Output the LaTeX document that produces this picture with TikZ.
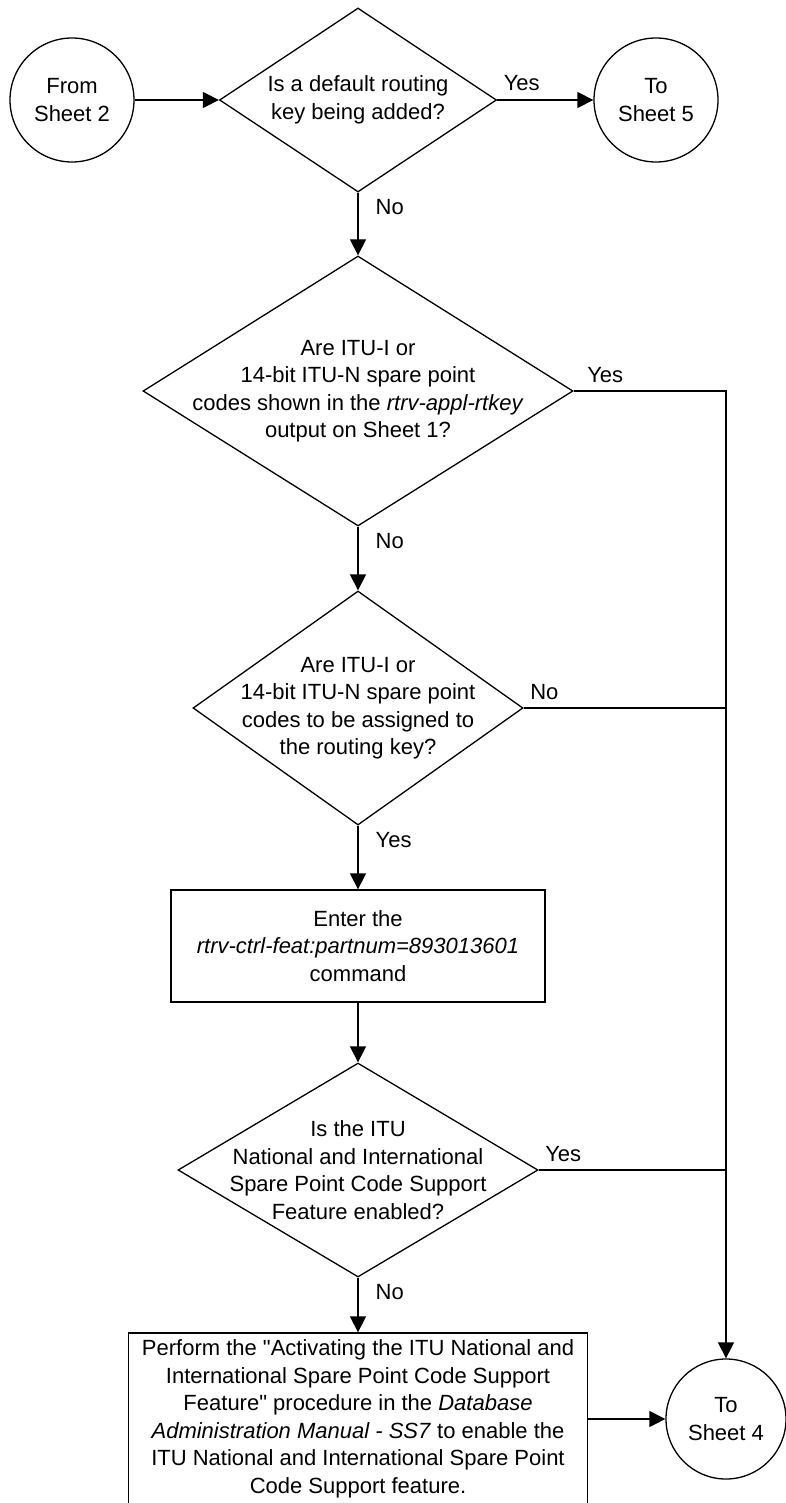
\documentclass[tikz,border=0pt]{standalone}
\usepackage{fontspec}
\setmainfont{Liberation Sans}
\usetikzlibrary{arrows.meta, shapes.geometric}
\newcommand{\fs}{\fontsize{22}{27.5}\selectfont}
\tikzset{
  every picture/.style={line width=1.3pt},
  sheet/.style={draw, circle, minimum size=#1, inner sep=0pt, align=center, font=\fs},
  sheet/.default=124pt,
  ask/.style={draw, diamond, inner sep=0pt},
  asktext/.style={align=center, inner sep=0pt, font=\fs},
  act/.style={draw, rectangle, align=center, inner sep=0pt, font=\fs},
  arrow/.style={-{Triangle[length=16pt, width=16pt]}},
  side/.style={anchor=base west, inner sep=0pt, font=\fs, xshift=6pt, yshift=9pt},
  down/.style={anchor=base west, inner sep=0pt, font=\fs, xshift=17pt, yshift=-22pt},
}

\begin{document}
\begin{tikzpicture}[x=1pt, y=-1pt]
  \useasboundingbox (0,0) rectangle (785,1503);
  % connectors to other sheets
  \node[sheet] (from2) at (72,100) {From\\Sheet 2};
  \node[sheet] (to5) at (656,100) {To\\Sheet 5};
  \node[sheet=120pt] (to4) at (726,1419) {To\\Sheet 4};
  % decisions
  \node[ask, minimum width=277pt, minimum height=184pt] (q1) at (358,100) {};
  \node[asktext] (q1t) at (q1) {Is a default routing\\key being added?};
  \node[ask, minimum width=430pt, minimum height=270pt] (q2) at (358,391) {};
  \node[asktext] (q2t) at (q2) {Are ITU-I or\\14-bit ITU-N spare point\\codes shown in the \textit{rtrv-appl-rtkey}\\output on Sheet 1?};
  \node[ask, minimum width=330pt, minimum height=234pt] (q3) at (358,708) {};
  \node[asktext] (q3t) at (q3) {Are ITU-I or\\14-bit ITU-N spare point\\codes to be assigned to\\the routing key?};
  \node[ask, minimum width=360pt, minimum height=214pt] (q4) at (358,1170) {};
  \node[asktext] (q4t) at (q4) {Is the ITU\\National and International\\Spare Point Code Support\\Feature enabled?};
  % actions
  \node[act, minimum width=374pt, minimum height=112pt] (cmd) at (358,946) {Enter the\\\textit{rtrv-ctrl-feat:partnum=893013601}\\command};
  \node[act, minimum width=459pt, minimum height=172pt] (perf) at (358,1419) {Perform the \textquotedbl Activating the ITU National and\\International Spare Point Code Support\\Feature\textquotedbl{} procedure in the \textit{Database}\\\textit{Administration Manual - SS7} to enable the\\ITU National and International Spare Point\\Code Support feature.};
  % flow
  \draw[arrow] (from2) -- (q1.west);
  \draw[arrow] (q1.east) -- (to5) node[side, pos=0] (y1) {Yes};
  \draw[arrow] (q1.south) -- (q2.north) node[down, pos=0] (n1) {No};
  \draw[arrow] (q2.east) -| (to4.north) node[side, pos=0, xshift=7pt] (y2) {Yes};
  \draw[arrow] (q2.south) -- (q3.north) node[down, pos=0] (n2) {No};
  \draw (q3.east) -- (q3.east -| to4.north) node[side, pos=0] (n3) {No};
  \draw[arrow] (q3.south) -- (cmd.north) node[down, pos=0] (y3) {Yes};
  \draw[arrow] (cmd.south) -- (q4.north);
  \draw (q4.east) -- (q4.east -| to4.north) node[side, pos=0] (y4) {Yes};
  \draw[arrow] (q4.south) -- (perf.north) node[down, pos=0] (n4) {No};
  \draw[arrow] (perf.east) -- (to4.west);
\end{tikzpicture}
\end{document}
